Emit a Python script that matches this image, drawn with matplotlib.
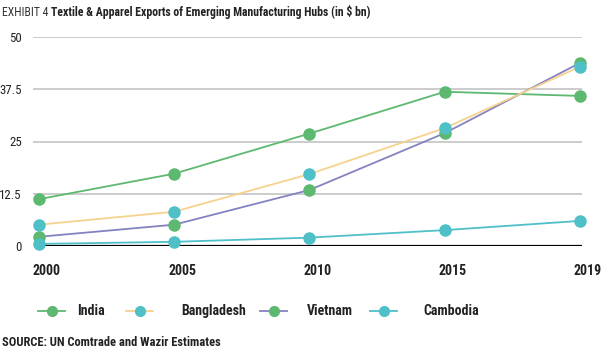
import matplotlib.pyplot as plt
from matplotlib.lines import Line2D
from matplotlib.transforms import ScaledTranslation

plt.rcParams['font.family'] = ['Roboto Condensed', 'DejaVu Sans']

years = ['2000', '2005', '2010', '2015', '2019']
india = [11.2, 17.3, 26.9, 36.9, 35.9]
bangladesh = [5.1, 8.2, 17.2, 28.2, 42.9]
vietnam = [2.2, 5.1, 13.4, 27.0, 43.8]
cambodia = [0.5, 1.0, 2.0, 3.8, 6.0]

series = [
    ('India', india, '#5db870', '#5db870', 3),
    ('Bangladesh', bangladesh, '#f6d28e', '#4fc0c8', 5),
    ('Vietnam', vietnam, '#8482c0', '#5db870', 4),
    ('Cambodia', cambodia, '#4fc0c8', '#4fc0c8', 6),
]

fig = plt.figure(figsize=(6.02, 3.52), dpi=100)
ax = fig.add_axes([33 / 602, 1 - 246 / 352, 549 / 602, 209 / 352])

x = list(range(len(years)))
for name, vals, lc, mc, z in series:
    ax.plot(x, vals, color=lc, lw=1.3, marker='o', ms=8, mfc=mc, mec=mc,
            zorder=z, clip_on=False)

ax.set_xlim(-0.044, 4.015)
ax.set_ylim(0, 50)
ax.set_yticks([0, 12.5, 25, 37.5, 50])
ax.set_yticklabels(['0', '12.5', '25', '37.5', '50'])
ax.set_xticks(x)
ax.set_xticklabels(years, fontweight='bold')
ax.grid(axis='y', color='#c8c8c8', lw=1.3)
ax.set_axisbelow(True)
ax.tick_params(length=0, colors='#222222')
ax.tick_params(axis='y', labelsize=9.3, pad=8)
ax.tick_params(axis='x', labelsize=10, pad=13)
for lab in ax.get_xticklabels():
    lab.set_transform(lab.get_transform() + ScaledTranslation(8 / 100, 0, fig.dpi_scale_trans))
for s in ax.spines.values():
    s.set_visible(False)
xmin = (0 - ax.get_xlim()[0]) / (ax.get_xlim()[1] - ax.get_xlim()[0])
ax.axhline(0, xmin=xmin, xmax=1, color='black', lw=1.6, zorder=2)

# title
t = fig.text(2 / 602, 1 - 12 / 352, 'EXHIBIT 4 ', fontsize=8.5, color='#333333', va='center')
fig.canvas.draw()
bb = t.get_window_extent()
fig.text(bb.x1 / 602, 1 - 12 / 352,
         'Textile & Apparel Exports of Emerging Manufacturing Hubs (in $ bn)',
         fontsize=8.5, fontweight='bold', color='#222222', va='center')

# legend
handle_x = [38, 126, 260, 370]
label_x = [77, 181, 307, 423]
ly = 1 - 311 / 352
for (name, vals, lc, mc, z), hx, tx in zip(series, handle_x, label_x):
    fig.add_artist(Line2D([hx / 602, (hx + 27) / 602], [ly, ly], color=lc, lw=1.3,
                          transform=fig.transFigure))
    fig.add_artist(Line2D([(hx + 13.5) / 602], [ly], marker='o', ms=7, mfc=mc, mec=mc,
                          transform=fig.transFigure))
    fig.text(tx / 602, ly, name, fontsize=10, fontweight='bold', color='#222222', va='center')

fig.text(2 / 602, 1 - 342 / 352, 'SOURCE: UN Comtrade and Wazir Estimates',
         fontsize=9, fontweight='bold', color='#222222', va='center')

fig.savefig('out.png', dpi=100)
